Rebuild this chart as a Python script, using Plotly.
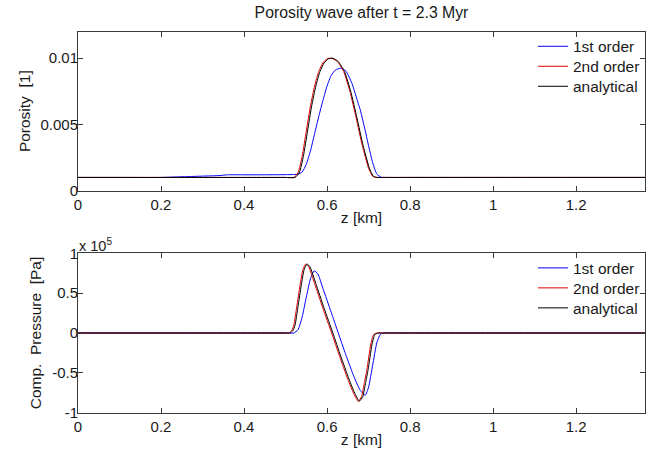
import plotly.graph_objects as go

# ---------------- data ----------------
x_ticks = [0, 0.2, 0.4, 0.6, 0.8, 1.0, 1.2]
x_tick_labels = ["0", "0.2", "0.4", "0.6", "0.8", "1", "1.2"]
por_ticks = [0, 0.005, 0.01]
por_tick_labels = ["0", "0.005", "0.01"]
pres_ticks = [-1, -0.5, 0, 0.5, 1]
pres_tick_labels = ["-1", "-0.5", "0", "0.5", "1"]

# Porosity [1]
z_por_1st = [0.0, 0.10, 0.20, 0.22, 0.26, 0.30, 0.34, 0.36, 0.40, 0.45, 0.50, 0.52, 0.53, 0.54,
             0.55, 0.56, 0.57, 0.58, 0.59, 0.60, 0.61, 0.62, 0.633, 0.645, 0.66, 0.675, 0.68,
             0.69, 0.70, 0.71, 0.72, 0.73, 0.74, 0.80, 1.0, 1.366]
por_1st = [0.0010, 0.0010, 0.0010, 0.00102, 0.00106, 0.00110, 0.00114, 0.00120, 0.00120, 0.00120,
           0.00121, 0.00122, 0.00125, 0.00140, 0.00200, 0.00300, 0.00430, 0.00560, 0.00680,
           0.00790, 0.00870, 0.00910, 0.00925, 0.00905, 0.00810, 0.00660, 0.00610, 0.00480,
           0.00340, 0.00210, 0.00125, 0.00102, 0.0010, 0.0010, 0.0010, 0.0010]

z_por_2nd = [0.0, 0.20, 0.40, 0.48, 0.50, 0.52, 0.53, 0.54, 0.55, 0.56, 0.57, 0.58, 0.59, 0.60,
             0.611, 0.625, 0.64, 0.655, 0.67, 0.685, 0.70, 0.71, 0.72, 0.74, 0.80, 1.0, 1.366]
por_2nd = [0.0010, 0.0010, 0.0010, 0.0010, 0.0010, 0.0010, 0.00135, 0.00260, 0.00450, 0.00640,
           0.00790, 0.00900, 0.00965, 0.00995, 0.01000, 0.00975, 0.00900, 0.00750, 0.00550,
           0.00340, 0.00170, 0.00108, 0.0010, 0.0010, 0.0010, 0.0010, 0.0010]

z_por_ana = [0.0, 0.20, 0.40, 0.48, 0.50, 0.523, 0.533, 0.543, 0.553, 0.563, 0.573, 0.583, 0.593,
             0.603, 0.614, 0.627, 0.642, 0.657, 0.672, 0.687, 0.702, 0.712, 0.722, 0.74, 0.80,
             1.0, 1.366]
por_ana = [0.0010, 0.0010, 0.0010, 0.0010, 0.0010, 0.0010, 0.00135, 0.00260, 0.00450, 0.00640,
           0.00790, 0.00900, 0.00965, 0.00995, 0.01000, 0.00975, 0.00900, 0.00750, 0.00550,
           0.00340, 0.00170, 0.00108, 0.0010, 0.0010, 0.0010, 0.0010, 0.0010]

# Compaction pressure [x 1e5 Pa]
z_pres_1st = [0.0, 0.20, 0.30, 0.40, 0.48, 0.50, 0.51, 0.52, 0.53, 0.54, 0.55, 0.56, 0.569,
              0.578, 0.59, 0.61, 0.627, 0.645, 0.665, 0.68, 0.692, 0.70, 0.71, 0.72, 0.728,
              0.735, 0.745, 0.76, 0.80, 1.0, 1.366]
pres_1st = [0.0, 0.0, 0.0, 0.0, 0.0, 0.0, 0.0, 0.0, 0.04, 0.20, 0.45, 0.68, 0.78,
            0.74, 0.56, 0.26, 0.0, -0.27, -0.55, -0.72, -0.78, -0.68, -0.40, -0.12, -0.02,
            0.0, 0.0, 0.0, 0.0, 0.0, 0.0]

z_pres_2nd = [0.0, 0.20, 0.40, 0.48, 0.50, 0.508, 0.515, 0.52, 0.527, 0.535, 0.542, 0.549,
              0.556, 0.57, 0.59, 0.611, 0.63, 0.65, 0.665, 0.675, 0.683, 0.69, 0.696, 0.705,
              0.712, 0.72, 0.73, 0.75, 0.80, 1.0, 1.366]
pres_2nd = [0.0, 0.0, 0.0, 0.0, 0.0, 0.0, 0.03, 0.10, 0.33, 0.60, 0.80, 0.867,
            0.83, 0.62, 0.31, 0.0, -0.29, -0.58, -0.77, -0.858, -0.80, -0.62, -0.46, -0.15,
            -0.02, 0.0, 0.0, 0.0, 0.0, 0.0, 0.0]

z_pres_ana = [0.0, 0.20, 0.40, 0.48, 0.50, 0.511, 0.518, 0.523, 0.530, 0.538, 0.545, 0.552,
              0.559, 0.573, 0.593, 0.614, 0.633, 0.653, 0.668, 0.678, 0.686, 0.693, 0.699,
              0.708, 0.715, 0.723, 0.733, 0.75, 0.80, 1.0, 1.366]
pres_ana = [0.0, 0.0, 0.0, 0.0, 0.0, 0.0, 0.03, 0.10, 0.33, 0.60, 0.80, 0.865,
            0.83, 0.62, 0.31, 0.0, -0.29, -0.58, -0.77, -0.855, -0.80, -0.62, -0.46, -0.15,
            -0.02, 0.0, 0.0, 0.0, 0.0, 0.0, 0.0]

series_names = ["1st order", "2nd order", "analytical"]
series_colors = ["#0000ff", "#e00000", "#000000"]

# ---------------- figure ----------------
FONT = "Liberation Sans, Arial, Helvetica, sans-serif"
TXT = "#1a1a1a"
W, H = 667, 462
fig = go.Figure()

top = [(z_por_1st, por_1st), (z_por_2nd, por_2nd), (z_por_ana, por_ana)]
bot = [(z_pres_1st, pres_1st), (z_pres_2nd, pres_2nd), (z_pres_ana, pres_ana)]

legend_ids_top = ["legend", "legend2", "legend3"]
legend_ids_bot = ["legend4", "legend5", "legend6"]
legend_y_top = [46.7, 66.7, 86.7]
legend_y_bot = [268.3, 288.3, 308.3]

for (zz, vv), name, col, lid in zip(top, series_names, series_colors, legend_ids_top):
    fig.add_trace(go.Scatter(x=zz, y=vv, mode="lines", name=name,
                             line=dict(color=col, width=1, shape="spline", smoothing=0.5),
                             xaxis="x", yaxis="y", legend=lid))
for (zz, vv), name, col, lid in zip(bot, series_names, series_colors, legend_ids_bot):
    fig.add_trace(go.Scatter(x=zz, y=vv, mode="lines", name=name,
                             line=dict(color=col, width=1, shape="spline", smoothing=0.5),
                             xaxis="x2", yaxis="y2", legend=lid))

xdom = [78 / W, 645 / W]
ydom_top = [1 - 190.7 / H, 1 - 31.7 / H]
ydom_bot = [1 - 412.7 / H, 1 - 253.3 / H]

axis_common = dict(showline=True, linecolor="#3a3a3a", linewidth=1, mirror="ticks",
                   ticks="inside", ticklen=5, tickcolor="#3a3a3a", showgrid=False,
                   zeroline=False, automargin=False,
                   tickfont=dict(size=15, color=TXT, family=FONT))
title_font = dict(size=15.5, family=FONT, color=TXT)

legends = {}
for lid, yc in zip(legend_ids_top + legend_ids_bot, legend_y_top + legend_y_bot):
    legends[lid] = dict(x=(573 - 40) / W, xanchor="left", y=1 - yc / H, yanchor="middle",
                        bgcolor="rgba(0,0,0,0)", borderwidth=0, tracegroupgap=0,
                        font=dict(size=15.5, family=FONT, color=TXT))

fig.update_layout(
    width=W, height=H,
    margin=dict(l=0, r=0, t=0, b=0, autoexpand=False),
    paper_bgcolor="white", plot_bgcolor="white",
    font=dict(family=FONT, color=TXT),
    title=dict(text="Porosity wave after t = 2.3 Myr", x=361.5 / W, xanchor="center",
               y=1 - 12 / H, yanchor="middle", font=dict(size=15.8, family=FONT, color=TXT)),
    xaxis=dict(domain=xdom, range=[0, 1.366], anchor="y", tickvals=x_ticks,
               ticktext=x_tick_labels, ticklabelstandoff=0,
               title=dict(text="z [km]", font=title_font, standoff=0),
               **axis_common),
    yaxis=dict(domain=ydom_top, range=[0, 0.012], anchor="x", tickvals=por_ticks,
               ticktext=por_tick_labels, ticklabelstandoff=-4,
               title=dict(text="Porosity\u00a0 [1]", font=title_font, standoff=6),
               **axis_common),
    xaxis2=dict(domain=xdom, range=[0, 1.366], anchor="y2", tickvals=x_ticks,
                ticktext=x_tick_labels, ticklabelstandoff=0,
                title=dict(text="z [km]", font=title_font, standoff=0),
                **axis_common),
    yaxis2=dict(domain=ydom_bot, range=[-1, 1], anchor="x2", tickvals=pres_ticks,
                ticktext=pres_tick_labels, ticklabelstandoff=-4,
                title=dict(text="Comp.\u00a0 Pressure\u00a0 [Pa]", font=title_font, standoff=6),
                **axis_common),
    showlegend=True,
    annotations=[dict(text="x 10<sup>5</sup>", x=77 / W, y=ydom_bot[1], xref="paper",
                      yref="paper", xanchor="left", yanchor="bottom", showarrow=False,
                      yshift=-3, font=dict(size=14.5, family=FONT, color=TXT))],
    **legends,
)

fig.write_html("out.html", config={"displayModeBar": False},
               post_script="document.body.style.margin='0px';")
